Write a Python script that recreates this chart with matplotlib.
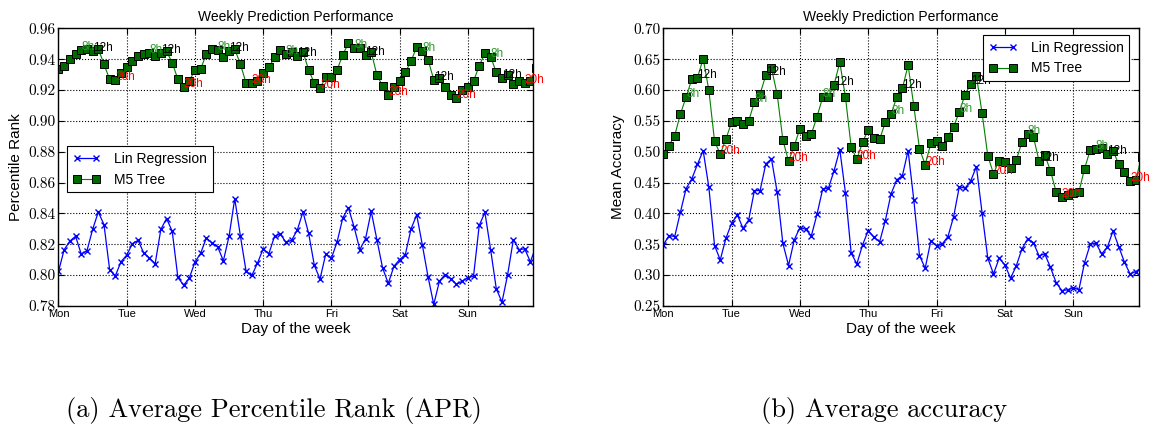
import numpy as np
import matplotlib
matplotlib.use('Agg')
import matplotlib.pyplot as plt

plt.rcParams['font.family'] = ['Liberation Sans', 'DejaVu Sans']

# ---- data (one value every 2 hours, Monday 0h onward) ----
day_labels = ['Mon', 'Tue', 'Wed', 'Thu', 'Fri', 'Sat', 'Sun']
hours = np.arange(85) * 2

apr_lr = [0.8024, 0.8165, 0.8220, 0.8252, 0.8137, 0.8157, 0.8296, 0.8409, 0.8328, 0.8035, 0.7996, 0.8087,
          0.8130, 0.8204, 0.8226, 0.8143, 0.8111, 0.8074, 0.8296, 0.8367, 0.8285, 0.7985, 0.7935, 0.7980,
          0.8085, 0.8141, 0.8241, 0.8209, 0.8183, 0.8093, 0.8252, 0.8496, 0.8252, 0.8024, 0.7998, 0.8078,
          0.8170, 0.8139, 0.8252, 0.8268, 0.8212, 0.8226, 0.8292, 0.8410, 0.8270, 0.8063, 0.7975, 0.8136,
          0.8110, 0.8215, 0.8371, 0.8435, 0.8311, 0.8166, 0.8235, 0.8413, 0.8230, 0.8047, 0.7946, 0.8058,
          0.8101, 0.8133, 0.8299, 0.8391, 0.8194, 0.7989, 0.7810, 0.7961, 0.8004, 0.7976, 0.7940, 0.7961,
          0.7983, 0.7994, 0.8323, 0.8406, 0.8166, 0.7912, 0.7825, 0.8004, 0.8230, 0.8166, 0.8170, 0.8086,
          0.8190]
apr_m5 = [0.9338, 0.9357, 0.9398, 0.9436, 0.9457, 0.9468, 0.9455, 0.9468, 0.9366, 0.9270, 0.9264, 0.9309,
          0.9349, 0.9390, 0.9419, 0.9434, 0.9443, 0.9419, 0.9443, 0.9451, 0.9377, 0.9270, 0.9221, 0.9260,
          0.9328, 0.9335, 0.9433, 0.9464, 0.9457, 0.9411, 0.9455, 0.9464, 0.9368, 0.9243, 0.9243, 0.9260,
          0.9311, 0.9347, 0.9411, 0.9460, 0.9436, 0.9445, 0.9421, 0.9447, 0.9330, 0.9244, 0.9212, 0.9283,
          0.9284, 0.9330, 0.9428, 0.9505, 0.9471, 0.9471, 0.9428, 0.9445, 0.9299, 0.9224, 0.9170, 0.9219,
          0.9260, 0.9316, 0.9385, 0.9480, 0.9456, 0.9396, 0.9267, 0.9275, 0.9219, 0.9166, 0.9148, 0.9198,
          0.9219, 0.9258, 0.9357, 0.9439, 0.9417, 0.9314, 0.9277, 0.9299, 0.9239, 0.9260, 0.9245, 0.9256,
          0.9340]
acc_lr = [0.3490, 0.3641, 0.3625, 0.4019, 0.4403, 0.4559, 0.4797, 0.5018, 0.4424, 0.3480, 0.3247, 0.3598,
          0.3841, 0.3976, 0.3760, 0.3895, 0.4370, 0.4370, 0.4802, 0.4883, 0.4343, 0.3517, 0.3156, 0.3571,
          0.3771, 0.3744, 0.3636, 0.3987, 0.4397, 0.4408, 0.4694, 0.5035, 0.4327, 0.3355, 0.3183, 0.3490,
          0.3722, 0.3614, 0.3540, 0.3884, 0.4316, 0.4543, 0.4613, 0.5018, 0.4219, 0.3318, 0.3112, 0.3560,
          0.3474, 0.3506, 0.3625, 0.3949, 0.4435, 0.4408, 0.4527, 0.4759, 0.4003, 0.3274, 0.3020, 0.3274,
          0.3166, 0.2950, 0.3150, 0.3425, 0.3587, 0.3528, 0.3312, 0.3344, 0.3128, 0.2880, 0.2750, 0.2761,
          0.2799, 0.2761, 0.3204, 0.3501, 0.3517, 0.3344, 0.3452, 0.3717, 0.3463, 0.3210, 0.3020, 0.3058,
          0.3120]
acc_m5 = [0.4959, 0.5100, 0.5261, 0.5612, 0.5882, 0.6174, 0.6201, 0.6508, 0.5996, 0.5170, 0.4959, 0.5207,
          0.5477, 0.5504, 0.5450, 0.5499, 0.5807, 0.5936, 0.6239, 0.6352, 0.5931, 0.5191, 0.4846, 0.5094,
          0.5375, 0.5250, 0.5283, 0.5569, 0.5882, 0.5882, 0.6087, 0.6449, 0.5882, 0.5072, 0.4878, 0.5159,
          0.5353, 0.5218, 0.5202, 0.5477, 0.5607, 0.5882, 0.6028, 0.6401, 0.5742, 0.5046, 0.4792, 0.5137,
          0.5180, 0.5100, 0.5245, 0.5407, 0.5645, 0.5925, 0.6098, 0.6228, 0.5623, 0.4932, 0.4646, 0.4856,
          0.4829, 0.4732, 0.4867, 0.5153, 0.5288, 0.5245, 0.4851, 0.4948, 0.4694, 0.4349, 0.4262, 0.4300,
          0.4330, 0.4349, 0.4727, 0.5029, 0.5040, 0.5062, 0.4964, 0.5013, 0.4797, 0.4667, 0.4527, 0.4538,
          0.4921]

mark_hours = [8, 12, 20]
mark_colors = ['#2e9a2e', 'black', 'red']

apr_yticks = [0.78, 0.80, 0.82, 0.84, 0.86, 0.88, 0.90, 0.92, 0.94, 0.96]
acc_yticks = [0.25, 0.30, 0.35, 0.40, 0.45, 0.50, 0.55, 0.60, 0.65, 0.70]

captions = ['(a) Average Percentile Rank (APR)', '(b) Average accuracy']

fig = plt.figure(figsize=(11.49, 4.32), dpi=100)
ax1 = fig.add_axes([0.0509, 0.2917, 0.4132, 0.6428])
ax2 = fig.add_axes([0.5773, 0.2917, 0.4137, 0.6428])


def draw(ax, lr, m5, yticks, ylabel, legend_loc, legend_anchor, ylab_x):
    ax.plot(hours, lr, '-x', color='#0000ff', lw=0.9, ms=5, mew=1.0, label='Lin Regression', zorder=2)
    ax.plot(hours, m5, '-s', color='#008000', mfc='#006a00', mec='black', mew=0.7, ms=5.3, lw=0.8,
            label='M5 Tree', zorder=2)
    for d in range(7):
        for h, c in zip(mark_hours, mark_colors):
            i = d * 12 + h // 2
            ax.text(hours[i], m5[i], '%dh' % h, color=c, fontsize=8.5, ha='left', va='baseline',
                    zorder=4, clip_on=False)
    ax.set_xlim(0, 167)
    ax.set_ylim(yticks[0], yticks[-1])
    ax.set_xticks(np.arange(7) * 24)
    ax.set_xticklabels(day_labels, fontsize=8)
    ax.set_yticks(yticks)
    ax.set_yticklabels(['%.2f' % v for v in yticks], fontfamily='cmr10', fontsize=11)
    ax.tick_params(direction='in', top=True, right=True, length=4, width=0.8)
    ax.tick_params(axis='x', pad=2)
    ax.tick_params(axis='y', pad=2)
    ax.grid(True, linestyle=':', color='black', linewidth=0.8)
    for s in ax.spines.values():
        s.set_linewidth(1.0)
    ax.set_title('Weekly Prediction Performance', fontsize=10, pad=5)
    ax.set_xlabel('Day of the week', fontsize=11, va='top')
    ax.xaxis.set_label_coords(0.5, -0.058)
    ax.set_ylabel(ylabel, fontsize=11)
    ax.yaxis.set_label_coords(ylab_x, 0.5)
    leg = ax.legend(loc=legend_loc, bbox_to_anchor=legend_anchor, borderaxespad=0, numpoints=2,
                    fontsize=10, fancybox=False, framealpha=1, edgecolor='black', handletextpad=1.0)
    leg.get_frame().set_linewidth(0.8)
    leg.set_zorder(5)


draw(ax1, apr_lr, apr_m5, apr_yticks, 'Percentile Rank', 'upper left', (0.018, 0.576), -0.074)
draw(ax2, acc_lr, acc_m5, acc_yticks, 'Mean Accuracy', 'upper right', (0.98, 0.976), -0.081)

fig.text(274 / 1149, 1 - 410 / 432, captions[0], ha='center', va='center', fontfamily='cmr10', fontsize=19)
fig.text(884 / 1149, 1 - 410 / 432, captions[1], ha='center', va='center', fontfamily='cmr10', fontsize=19)

fig.savefig('out.png', dpi=100)
